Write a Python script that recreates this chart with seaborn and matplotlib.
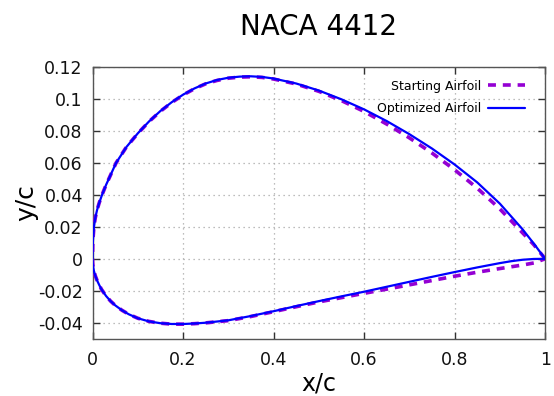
import matplotlib
matplotlib.use("Agg")
import matplotlib.pyplot as plt
import pandas as pd
import seaborn as sns

# Airfoil surface coordinates (chord-normalised), leading edge -> trailing edge
x_upper = [0.0, 0.0005, 0.0015, 0.003, 0.006, 0.01, 0.015, 0.021, 0.03, 0.04,
           0.052, 0.075, 0.1, 0.125, 0.15, 0.175, 0.2, 0.225, 0.25, 0.275,
           0.3, 0.325, 0.35, 0.375, 0.4, 0.45, 0.5, 0.55, 0.6, 0.65,
           0.7, 0.75, 0.8, 0.85, 0.9, 0.95, 0.975, 1.0]
y_upper_start = [0.0, 0.0082, 0.0140, 0.0195, 0.0255, 0.0305, 0.0352, 0.0400, 0.0463, 0.0525,
                 0.0600, 0.0700, 0.0784, 0.0859, 0.0923, 0.0978, 0.1025, 0.1064, 0.1095, 0.1116,
                 0.1130, 0.1137, 0.1139, 0.1135, 0.1125, 0.1094, 0.1048, 0.0990, 0.0922, 0.0843,
                 0.0757, 0.0662, 0.0557, 0.0442, 0.0312, 0.0163, 0.0088, 0.0]
y_upper_opt = [0.0, 0.0082, 0.0140, 0.0195, 0.0255, 0.0305, 0.0352, 0.0400, 0.0463, 0.0525,
               0.0600, 0.0700, 0.0785, 0.0860, 0.0925, 0.0980, 0.1027, 0.1066, 0.1097, 0.1119,
               0.1133, 0.1140, 0.1142, 0.1138, 0.1128, 0.1097, 0.1053, 0.0998, 0.0935, 0.0862,
               0.0780, 0.0690, 0.0590, 0.0478, 0.0345, 0.0185, 0.0095, 0.0]

x_lower = [0.0, 0.0005, 0.0015, 0.003, 0.006, 0.01, 0.015, 0.02, 0.03, 0.04,
           0.05, 0.065, 0.08, 0.1, 0.125, 0.15, 0.175, 0.2, 0.225, 0.25,
           0.3, 0.35, 0.4, 0.45, 0.5, 0.55, 0.6, 0.65, 0.7, 0.75,
           0.8, 0.85, 0.9, 0.925, 0.95, 0.975, 1.0]
y_lower_start = [0.0, -0.0030, -0.0052, -0.0075, -0.0105, -0.0135, -0.0165, -0.0192, -0.0233, -0.0265,
                 -0.0291, -0.0322, -0.0347, -0.0372, -0.0392, -0.0403, -0.0409, -0.0409, -0.0406, -0.0401,
                 -0.0387, -0.0361, -0.0331, -0.0300, -0.0270, -0.0243, -0.0216, -0.0190, -0.0163, -0.0136,
                 -0.0109, -0.0084, -0.0061, -0.0050, -0.0039, -0.0026, 0.0]
y_lower_opt = [0.0, -0.0030, -0.0052, -0.0075, -0.0105, -0.0135, -0.0165, -0.0192, -0.0233, -0.0265,
               -0.0291, -0.0322, -0.0347, -0.0372, -0.0392, -0.0403, -0.0408, -0.0408, -0.0405, -0.0400,
               -0.0385, -0.0358, -0.0328, -0.0296, -0.0265, -0.0235, -0.0206, -0.0175, -0.0144, -0.0113,
               -0.0083, -0.0054, -0.0027, -0.0015, -0.0006, -0.0001, 0.0]

series_names = ["Starting Airfoil", "Optimized Airfoil"]
x_ticks = [0, 0.2, 0.4, 0.6, 0.8, 1]
x_tick_labels = ["0", "0.2", "0.4", "0.6", "0.8", "1"]
y_ticks = [-0.04, -0.02, 0, 0.02, 0.04, 0.06, 0.08, 0.1, 0.12]
y_tick_labels = ["-0.04", "-0.02", "0", "0.02", "0.04", "0.06", "0.08", "0.1", "0.12"]


def closed_contour(name, y_up, y_lo):
    # trailing edge -> leading edge over the upper side, then back along the lower side
    xs = list(reversed(x_upper)) + x_lower[1:]
    ys = list(reversed(y_up)) + y_lo[1:]
    return pd.DataFrame({"x": xs, "y": ys, "series": name})


df_start = closed_contour(series_names[0], y_upper_start, y_lower_start)
df_opt = closed_contour(series_names[1], y_upper_opt, y_lower_opt)

sns.set_style("ticks")
plt.rcParams["font.family"] = ["DejaVu Sans"]
plt.rcParams["text.color"] = "black"
plt.rcParams["axes.labelcolor"] = "black"

fig = plt.figure(figsize=(5.54, 3.96), dpi=100)
ax = fig.add_axes([0.167, 0.1447, 0.817, 0.686])

sns.lineplot(data=df_start, x="x", y="y", sort=False, estimator=None,
             color="#9400d3", linewidth=2.6, label=series_names[0], ax=ax, zorder=3)
ax.lines[-1].set_dashes([2.2, 1.9])
sns.lineplot(data=df_opt, x="x", y="y", sort=False, estimator=None,
             color="#0000ff", linewidth=1.6, label=series_names[1], ax=ax, zorder=4)

ax.set_xlim(0, 1)
ax.set_ylim(-0.05, 0.12)
ax.set_xticks(x_ticks)
ax.set_xticklabels(x_tick_labels)
ax.set_yticks(y_ticks)
ax.set_yticklabels(y_tick_labels)

ax.grid(True, color="#a8a8a8", linestyle=(0, (1, 3)), linewidth=0.9)
ax.set_axisbelow(True)
for side in ax.spines.values():
    side.set_visible(True)
    side.set_color("#555555")
    side.set_linewidth(1.0)
ax.tick_params(direction="in", length=5, width=1.0, color="#333333",
               top=True, right=True, labelsize=12.5, labelcolor="#111111")
ax.tick_params(axis="x", pad=9)
ax.tick_params(axis="y", pad=7)

ax.set_xlabel("x/c", fontsize=17, labelpad=2)
ax.set_ylabel("y/c", fontsize=18, labelpad=0)
ax.set_title("NACA 4412", fontsize=20, pad=23, color="black")

ax.legend(loc="upper right", bbox_to_anchor=(0.956, 0.954), frameon=False,
          markerfirst=False, fontsize=9, handlelength=3.0, handletextpad=0.5,
          labelspacing=0.75, borderpad=0, borderaxespad=0)

fig.savefig("out.png", dpi=100)
